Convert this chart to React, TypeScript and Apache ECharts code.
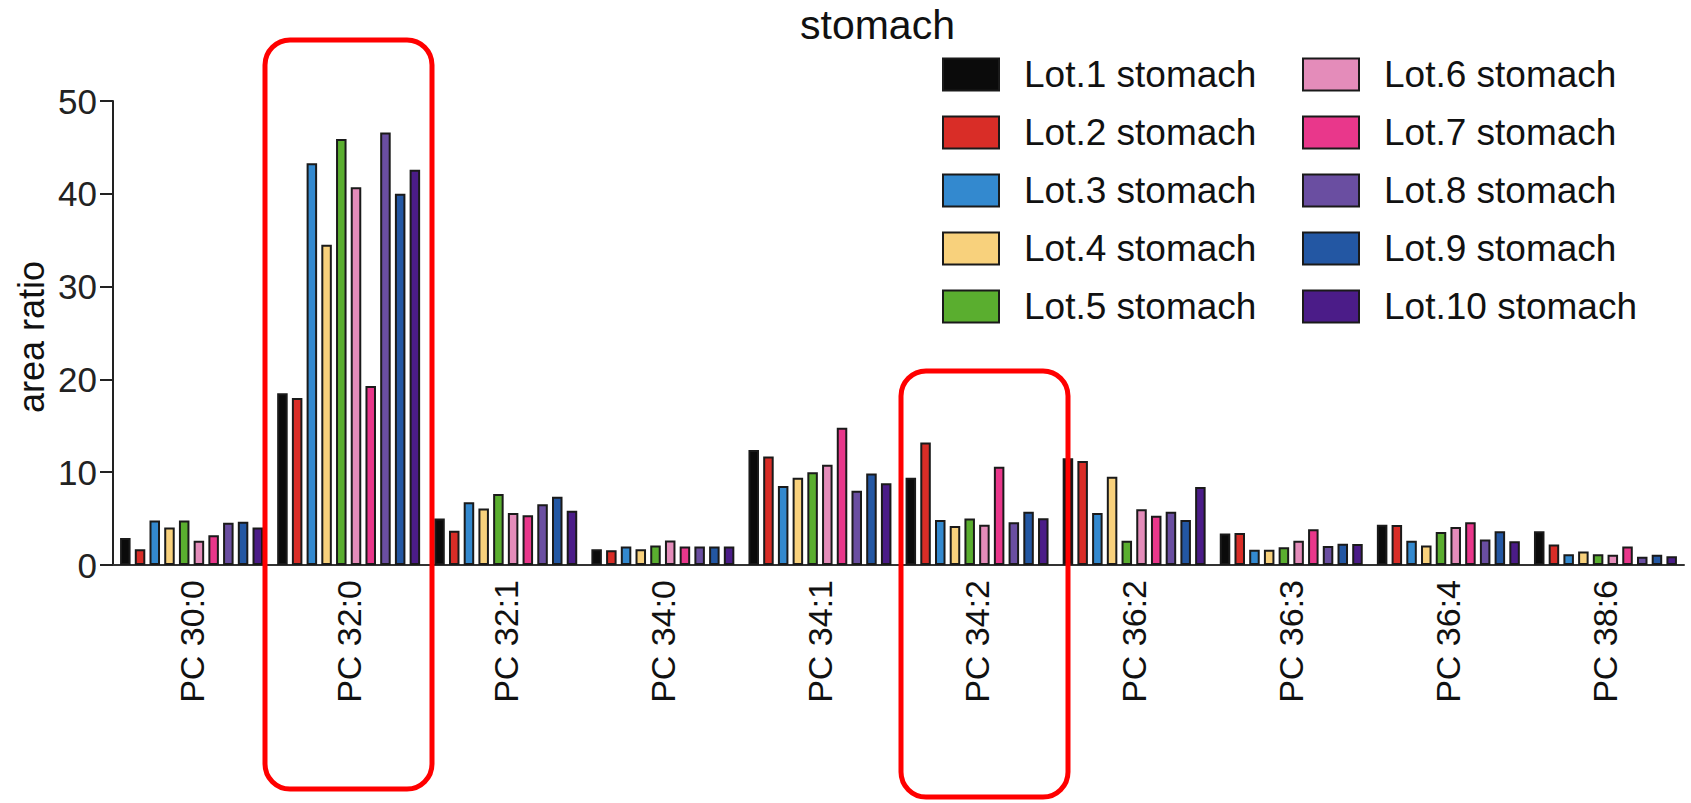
import React, { useEffect, useRef } from "react";
import * as echarts from "echarts";

const categories = ["PC 30:0", "PC 32:0", "PC 32:1", "PC 34:0", "PC 34:1", "PC 34:2", "PC 36:2", "PC 36:3", "PC 36:4", "PC 38:6"];
const lotNames = ["Lot.1 stomach", "Lot.2 stomach", "Lot.3 stomach", "Lot.4 stomach", "Lot.5 stomach", "Lot.6 stomach", "Lot.7 stomach", "Lot.8 stomach", "Lot.9 stomach", "Lot.10 stomach"];
const lotColors = ["#0b0b0b", "#d92d27", "#3389cf", "#f8d17c", "#5aae2f", "#e48cba", "#e9378b", "#6a4ea1", "#2357a3", "#4b1c88"];

const lot1 = [2.9, 18.5, 5.0, 1.7, 12.4, 9.4, 11.5, 3.4, 4.35, 3.65];
const lot2 = [1.7, 18.0, 3.7, 1.6, 11.7, 13.2, 11.2, 3.45, 4.3, 2.2];
const lot3 = [4.8, 43.3, 6.75, 2.0, 8.5, 4.85, 5.6, 1.65, 2.6, 1.15];
const lot4 = [4.05, 34.5, 6.1, 1.7, 9.4, 4.2, 9.5, 1.65, 2.1, 1.45];
const lot5 = [4.8, 45.9, 7.65, 2.1, 10.0, 5.0, 2.6, 1.9, 3.55, 1.15];
const lot6 = [2.6, 40.7, 5.6, 2.65, 10.8, 4.35, 6.0, 2.6, 4.1, 1.1];
const lot7 = [3.2, 19.3, 5.35, 2.0, 14.8, 10.6, 5.3, 3.85, 4.6, 2.0];
const lot8 = [4.55, 46.6, 6.55, 2.0, 8.0, 4.6, 5.75, 2.05, 2.75, 0.9];
const lot9 = [4.65, 40.0, 7.35, 2.0, 9.85, 5.75, 4.85, 2.3, 3.65, 1.1];
const lot10 = [4.05, 42.6, 5.85, 2.0, 8.8, 5.05, 8.4, 2.25, 2.55, 0.95];
const lotValues = [lot1, lot2, lot3, lot4, lot5, lot6, lot7, lot8, lot9, lot10];

const yTicks = { min: 0, max: 50, interval: 10 };
const titleText = "stomach";
const yName = "area ratio";

const FONT = "'Liberation Sans', Arial, Helvetica, sans-serif";

export default function App() {
  const ref = useRef<HTMLDivElement>(null);
  useEffect(() => {
    document.body.style.margin = "0";
    if (!ref.current) return;
    const chart = echarts.init(ref.current, undefined, { renderer: "svg" });
    const legendCommon = {
      orient: "vertical" as const,
      top: 56,
      itemWidth: 56,
      itemHeight: 32,
      itemGap: 21,
      padding: 0,
      icon: "rect",
      textStyle: { fontSize: 37, lineHeight: 37, color: "#111", fontFamily: FONT, padding: [0, 0, 0, 20] },
    };
    chart.setOption({
      animation: false,
      backgroundColor: "#fff",
      textStyle: { fontFamily: FONT },
      title: {
        text: titleText,
        left: 800,
        top: 4,
        padding: 0,
        textStyle: { fontSize: 41, fontWeight: "normal", color: "#111", fontFamily: FONT },
      },
      legend: [
        { ...legendCommon, left: 942, data: lotNames.slice(0, 5) },
        { ...legendCommon, left: 1302, data: lotNames.slice(5, 10) },
      ],
      grid: { left: 113, right: 7, top: 101, bottom: 238, containLabel: false },
      xAxis: {
        type: "category",
        data: categories,
        axisLine: { lineStyle: { color: "#333", width: 2 } },
        axisTick: { alignWithLabel: true, length: 12, lineStyle: { color: "#222", width: 2 } },
        axisLabel: { rotate: 90, fontSize: 34, color: "#111", margin: 15, fontFamily: FONT, interval: 0 },
      },
      yAxis: {
        type: "value",
        min: yTicks.min,
        max: yTicks.max,
        interval: yTicks.interval,
        splitLine: { show: false },
        axisLine: { show: true, lineStyle: { color: "#222", width: 2 } },
        axisTick: { show: true, length: 13, lineStyle: { color: "#222", width: 2 } },
        axisLabel: { fontSize: 35, color: "#222", margin: 16, fontFamily: FONT },
      },
      series: lotNames.map((name, i) => ({
        name,
        type: "bar",
        data: lotValues[i],
        barGap: "40%",
        barCategoryGap: "9%",
        itemStyle: {
          color: lotColors[i],
          borderColor: "#1a1a1a",
          borderWidth: 2,
        },
      })),
      graphic: [
        {
          type: "text",
          x: 31,
          y: 337,
          rotation: Math.PI / 2,
          style: {
            text: yName,
            fontSize: 36,
            fontFamily: FONT,
            fill: "#111",
            align: "center",
            verticalAlign: "middle",
          },
        },
        {
          type: "rect",
          shape: { x: 265, y: 40, width: 167, height: 749, r: 25 },
          style: { fill: "none", stroke: "#ff0000", lineWidth: 5 },
          z: 100,
        },
        {
          type: "rect",
          shape: { x: 901, y: 371, width: 167, height: 426, r: 25 },
          style: { fill: "none", stroke: "#ff0000", lineWidth: 5 },
          z: 100,
        },
      ],
    });
    return () => chart.dispose();
  }, []);
  return <div ref={ref} style={{ width: 1691, height: 803 }} />;
}
